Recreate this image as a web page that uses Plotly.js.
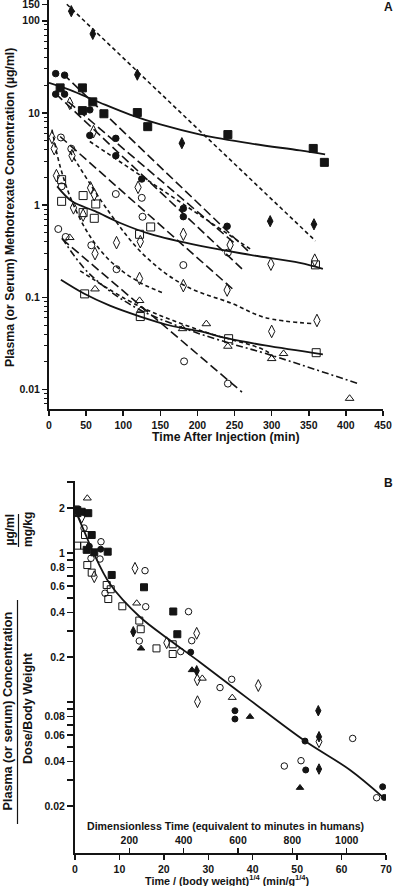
<!DOCTYPE html>
<html><head><meta charset="utf-8">
<script src="https://cdn.plot.ly/plotly-3.0.1.min.js"></script>
<style>html,body{margin:0;padding:0;background:#fff}#chart{width:394px;height:886px}</style>
</head><body><div id="chart"></div>
<script>
// ---------- Panel A data (time in min, concentration in µg/ml) ----------
const A_fsq_t = [15,45,45,59,74,119,133,241,356,371];
const A_fsq_c = [18.7,18.7,10.6,13.2,9.8,10.1,7.1,5.83,4.12,2.91];
const A_fci_t = [9,21,9,21,55,55,90,90,125,181,181,240];
const A_fci_c = [26.7,25.7,16.0,16.0,10.8,5.7,5.3,3.44,1.92,0.92,0.75,0.59];
const A_fdi_t = [30,59,119,179,298,357];
const A_fdi_c = [127,72,26,4.7,0.67,0.62];
const A_odi_t = [28,60,4,7,31,10,56,61,33,46,120,62,91,123,122,181,181,244,299,358,240,361,300];
const A_odi_c = [12.7,6.28,5.42,4.10,3.44,2.09,1.54,1.30,0.935,0.78,1.56,0.298,0.392,0.402,0.160,0.483,0.134,0.370,0.229,0.253,0.120,0.0561,0.0427];
const A_oci_t = [16,30,17,90,125,126,12.5,22.5,57,91,181,182,241,241];
const A_oci_c = [5.42,4.09,1.60,1.32,1.20,0.748,0.551,0.452,0.367,0.202,0.224,0.0202,0.306,0.0116];
const A_osq_t = [17,17,46,63,46,61,122,137,359,48,123,242,360];
const A_osq_c = [1.89,1.10,1.27,1.03,0.83,0.72,0.483,0.58,0.225,0.109,0.0619,0.0356,0.0251];
const A_otr_t = [28,62,122,124,180,212,241,300,316,405];
const A_otr_c = [0.444,0.123,0.0921,0.0731,0.0456,0.0516,0.0294,0.0216,0.0245,0.0080];

// fitted curves
const A_s1_t = [0,28,69,109,150,204,271,338,372];
const A_s1_c = [21.2,17.8,12.9,9.6,7.5,5.83,4.67,3.92,3.55];
const A_s2_t = [11,31,62,96,136,204,271,338,369];
const A_s2_c = [1.60,1.10,0.86,0.64,0.487,0.361,0.289,0.237,0.204];
const A_s3_t = [16,47,82,123,163,204,241,291,369];
const A_s3_c = [0.155,0.110,0.0813,0.0619,0.0495,0.0427,0.0358,0.0301,0.0241];
const A_sd0_t = [24,359];   const A_sd0_c = [151,0.409];
const A_lda_t = [19,268];   const A_lda_c = [26.5,0.319];
const A_ldb_t = [9,260];    const A_ldb_c = [16.2,0.204];
const A_ldc_t = [26,251];   const A_ldc_c = [13.2,0.38];
const A_ldd_t = [15,247];   const A_ldd_c = [5.55,0.124];
const A_lde_t = [17.5,260]; const A_lde_c = [0.43,0.0094];
const A_sda_t = [4,15,31,55,85,123,156];
const A_sda_c = [6.6,2.63,1.10,0.463,0.237,0.144,0.110];
const A_sdb_t = [28,80,129,183,247,291,354];
const A_sdb_c = [3.83,0.862,0.282,0.134,0.0855,0.0604,0.052];
const A_sdc_t = [55,271];   const A_sdc_c = [4.9,0.335];
const A_sdd_t = [42,120,204,291,305];
const A_sdd_c = [0.194,0.0813,0.0437,0.0266,0.0218];
const A_dd_t = [17.5,53,112,183,244,291,415];
const A_dd_c = [0.441,0.185,0.0813,0.0459,0.0317,0.0247,0.0117];

const A_xticks = [0,50,100,150,200,250,300,350,400,450];
const A_yticks = [0.01,0.1,1,10,100,150];
const A_ylabels = ['0.01','0.1','1','10','100','150'];

// ---------- Panel B data ----------
const B_osq_x = [0.23,0.52,2.03,2.25,2.77,3.76,7.13,8.04,7.49,10.65,14.47,14.79,18.34,21.99,21.99];
const B_osq_y = [1.96,1.12,1.12,1.32,0.83,0.738,0.610,0.571,0.491,0.439,0.352,0.308,0.229,0.244,0.210];
const B_fsq_x = [0.52,1.51,2.99,3.76,2.63,4.34,7.36,8.26,15.53,22.12,23.03];
const B_fsq_y = [1.94,1.89,1.85,1.32,1.05,1.01,1.02,0.712,0.589,0.405,0.285];
const B_oci_x = [2.03,5.85,5.63,3.60,15.76,15.91,25.55,6.75,26.27,14.47,23.79,35.27,32.64,62.5,50.87,47.11,67.9];
const B_oci_y = [1.47,1.19,0.911,0.921,0.761,0.436,0.404,0.537,0.258,0.257,0.218,0.142,0.125,0.057,0.0404,0.0372,0.0228];
const B_odi_x = [1.51,4.34,13.5,20.64,27.39,27.53,27.57,41.26,54.92];
const B_odi_y = [1.74,0.693,0.789,0.250,0.289,0.141,0.1005,0.129,0.0542];
const B_otr_x = [2.77,13.89,28.65,35.4];
const B_otr_y = [2.33,0.460,0.144,0.107];
const B_fci_x = [3.22,5.78,26.04,36.0,36.0,51.77,51.93,69.25,69.62];
const B_fci_y = [1.11,1.06,0.216,0.0874,0.0769,0.0547,0.0350,0.0270,0.0229];
const B_fdi_x = [13.12,27.39,54.76,54.92,54.92];
const B_fdi_y = [0.296,0.162,0.0874,0.0585,0.0355];
const B_ftr_x = [0.52,14.86,26.33,39.39,50.64];
const B_ftr_y = [1.80,0.229,0.164,0.0797,0.0266];
const B_fit_x = [0.23,2.25,4.05,7.88,14.63,21.38,28.13,39.39,51.77,61.9,69.3];
const B_fit_y = [1.88,1.36,1.02,0.619,0.372,0.260,0.185,0.103,0.0547,0.035,0.0230];

const B_xticks = [0,10,20,30,40,50,60,70];
const B_x3ticks = [200,400,600,800,1000];
const B_yticks = [0.02,0.04,0.06,0.08,0.2,0.4,0.6,0.8,1,2];
const B_ylabels = ['0.02','0.04','0.06','0.08','0.2','0.4','0.6','0.8','1','2'];
const B_yminor = [0.03,0.05,0.07,0.09,0.1,0.3,0.5,0.7,0.9,3];
const B_dimScale = 16.35; // dimensionless-time units per (min/g^1/4)

// ---------- build ----------
const INK = '#141414';
const FONT = 'Liberation Sans, Arial, Helvetica, sans-serif';
const W = 394, H = 886;
const px = v => v / W, py = v => 1 - v / H;

function pts(x, y, sym, size, xa, ya) {
  return {x:x, y:y, mode:'markers', type:'scatter', xaxis:xa, yaxis:ya, hoverinfo:'skip',
    marker:{symbol:sym, size:size, color:INK, line:{color:INK, width:1}}};
}
function ln(x, y, dash, w, shape, xa, ya) {
  return {x:x, y:y, mode:'lines', type:'scatter', xaxis:xa, yaxis:ya, hoverinfo:'skip',
    line:{color:INK, width:w, dash:dash, shape:shape || 'linear', smoothing:1}};
}
const LONG = '9px,4px', SHORT = '4px,3px', DASHDOT = '7px,3px,2px,3px';

const traces = [
  ln(A_s1_t, A_s1_c, 'solid', 1.8, 'spline', 'x', 'y'),
  ln(A_s2_t, A_s2_c, 'solid', 1.8, 'spline', 'x', 'y'),
  ln(A_s3_t, A_s3_c, 'solid', 1.8, 'spline', 'x', 'y'),
  ln(A_sd0_t, A_sd0_c, SHORT, 1.6, null, 'x', 'y'),
  ln(A_lda_t, A_lda_c, LONG, 1.6, null, 'x', 'y'),
  ln(A_ldb_t, A_ldb_c, LONG, 1.6, null, 'x', 'y'),
  ln(A_ldc_t, A_ldc_c, LONG, 1.6, null, 'x', 'y'),
  ln(A_ldd_t, A_ldd_c, LONG, 1.6, null, 'x', 'y'),
  ln(A_lde_t, A_lde_c, LONG, 1.6, null, 'x', 'y'),
  ln(A_sda_t, A_sda_c, SHORT, 1.6, 'spline', 'x', 'y'),
  ln(A_sdb_t, A_sdb_c, SHORT, 1.6, 'spline', 'x', 'y'),
  ln(A_sdc_t, A_sdc_c, SHORT, 1.6, null, 'x', 'y'),
  ln(A_sdd_t, A_sdd_c, SHORT, 1.6, 'spline', 'x', 'y'),
  ln(A_dd_t, A_dd_c, DASHDOT, 1.6, 'spline', 'x', 'y'),
  pts(A_fsq_t, A_fsq_c, 'square', 8, 'x', 'y'),
  pts(A_fci_t, A_fci_c, 'circle', 6.5, 'x', 'y'),
  pts(A_fdi_t, A_fdi_c, 'diamond-tall', 8, 'x', 'y'),
  pts(A_odi_t, A_odi_c, 'diamond-tall-open', 9, 'x', 'y'),
  pts(A_oci_t, A_oci_c, 'circle-open', 7, 'x', 'y'),
  pts(A_osq_t, A_osq_c, 'square-open', 8, 'x', 'y'),
  pts(A_otr_t, A_otr_c, 'triangle-up-open', 7.5, 'x', 'y'),

  ln(B_fit_x, B_fit_y, 'solid', 1.8, 'spline', 'x2', 'y2'),
  pts(B_osq_x, B_osq_y, 'square-open', 7, 'x2', 'y2'),
  pts(B_fsq_x, B_fsq_y, 'square', 7, 'x2', 'y2'),
  pts(B_oci_x, B_oci_y, 'circle-open', 6.5, 'x2', 'y2'),
  pts(B_odi_x, B_odi_y, 'diamond-tall-open', 8.5, 'x2', 'y2'),
  pts(B_otr_x, B_otr_y, 'triangle-up-open', 7, 'x2', 'y2'),
  pts(B_fci_x, B_fci_y, 'circle', 6, 'x2', 'y2'),
  pts(B_fdi_x, B_fdi_y, 'diamond-tall', 7.5, 'x2', 'y2'),
  pts(B_ftr_x, B_ftr_y, 'triangle-up', 6.5, 'x2', 'y2'),
  {x:[], y:[], type:'scatter', mode:'markers', xaxis:'x3', yaxis:'y2', showlegend:false}
];

// minor log ticks for panel A
const A_minor = [];
for (let d = -3; d <= 2; d++) for (let m = 2; m <= 9; m++) A_minor.push(m * Math.pow(10, d));

const tf = {family:FONT, size:10.5, color:INK, weight:'bold'};
const axBase = {showline:true, linewidth:2, linecolor:INK, showgrid:false, zeroline:false,
  ticks:'outside', tickwidth:1.5, tickcolor:INK, tickfont:tf, ticklabeloverflow:'allow'};

const layout = {
  width:W, height:H, margin:{l:0, r:0, t:0, b:0},
  paper_bgcolor:'#fff', plot_bgcolor:'rgba(0,0,0,0)', showlegend:false,
  font:{family:FONT, color:INK},
  xaxis: Object.assign({}, axBase, {domain:[px(49), px(383)], range:[0,450], anchor:'y',
    tickmode:'array', tickvals:A_xticks, ticklen:5}),
  yaxis: Object.assign({}, axBase, {domain:[py(409), py(0)], type:'log', range:[-2.211, 2.225], anchor:'x',
    tickmode:'array', tickvals:A_yticks, ticktext:A_ylabels, ticklen:5,
    minor:{tickmode:'array', tickvals:A_minor, ticks:'outside', ticklen:3, tickwidth:1, tickcolor:INK, showgrid:false}}),
  xaxis2: Object.assign({}, axBase, {domain:[px(75), px(386)], range:[0,70], anchor:'y2',
    tickmode:'array', tickvals:B_xticks, ticklen:5}),
  yaxis2: Object.assign({}, axBase, {domain:[py(853), py(481)], type:'log', range:[-2.013, 0.483], anchor:'x2',
    tickmode:'array', tickvals:B_yticks, ticktext:B_ylabels, ticklen:6,
    minor:{tickmode:'array', tickvals:B_yminor, ticks:'outside', ticklen:6, tickwidth:1.5, tickcolor:INK, showgrid:false}}),
  xaxis3: {overlaying:'x2', anchor:'free', position:py(853), side:'top', range:[0, 70*B_dimScale],
    tickmode:'array', tickvals:B_x3ticks, ticks:'outside', ticklen:5, tickwidth:1.5, tickcolor:INK,
    showline:false, showgrid:false, zeroline:false, tickfont:tf, ticklabeloverflow:'allow'},
  annotations: [
    {text:'<b>Plasma (or Serum) Methotrexate Concentration (µg/ml)</b>', x:px(10), y:py(208), textangle:-90, font:{size:12.3}},
    {text:'<b>Time After Injection (min)</b>', x:px(226), y:py(437), font:{size:12.3}},
    {text:'<b>A</b>', x:px(388), y:py(7), font:{size:12}},
    {text:'<b>B</b>', x:px(388), y:py(483), font:{size:12}},
    {text:'<b>Dimensionless Time (equivalent to minutes in humans)</b>', x:px(225), y:py(826), font:{size:10.6}},
    {text:'<b>Time / (body weight)<sup>1/4</sup> (min/g<sup>1/4</sup>)</b>', x:px(227), y:py(880), font:{size:10.8}},
    {text:'<b>Plasma (or serum) Concentration</b>', x:px(7.5), y:py(711), textangle:-90, font:{size:12.6}},
    {text:'<b>Dose/Body Weight</b>', x:px(28), y:py(708), textangle:-90, font:{size:12.6}},
    {text:'<b>µg/ml</b>', x:px(9.5), y:py(530), textangle:-90, font:{size:12}},
    {text:'<b>mg/kg</b>', x:px(28), y:py(530), textangle:-90, font:{size:12}}
  ].map(a => Object.assign({xref:'paper', yref:'paper', showarrow:false, xanchor:'center', yanchor:'middle'}, a,
      {font:Object.assign({family:FONT, color:INK}, a.font)})),
  shapes: [
    {type:'line', xref:'paper', yref:'paper', x0:px(17.5), x1:px(17.5), y0:py(600), y1:py(824), line:{color:INK, width:1.2}},
    {type:'line', xref:'paper', yref:'paper', x0:px(18.5), x1:px(18.5), y0:py(514), y1:py(547), line:{color:INK, width:1.2}}
  ]
};

Plotly.newPlot('chart', traces, layout, {staticPlot:true, displayModeBar:false});
</script></body></html>
